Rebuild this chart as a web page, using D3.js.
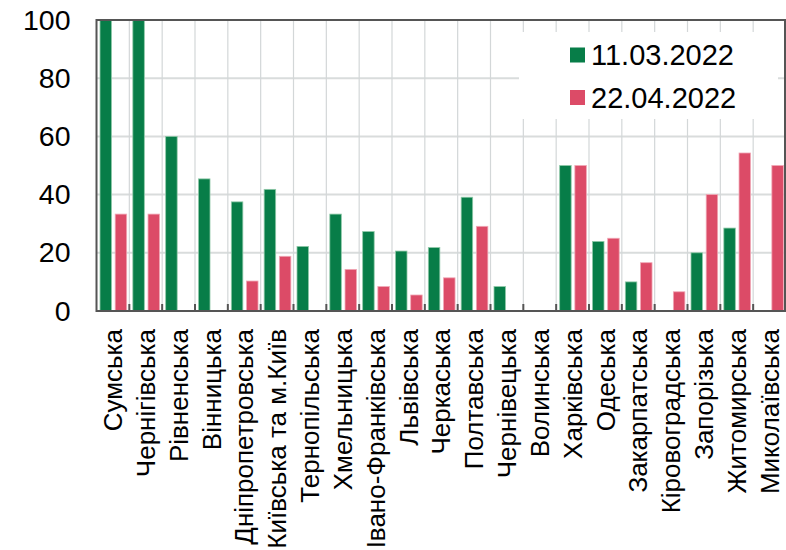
<!DOCTYPE html>
<html>
<head>
<meta charset="utf-8">
<script src="https://cdn.jsdelivr.net/npm/d3@7"></script>
<style>
html,body{margin:0;padding:0;background:#fff;}
svg{display:block;font-family:"Liberation Sans",Arial,sans-serif;}
</style>
</head>
<body>
<svg id="chart" width="786" height="550"></svg>
<script>
const categories = ["Сумська","Чернігівська","Рівненська","Вінницька","Дніпропетровська","Київська та м.Київ","Тернопільська","Хмельницька","Івано-Франківська","Львівська","Черкаська","Полтавська","Чернівецька","Волинська","Харківська","Одеська","Закарпатська","Кіровоградська","Запорізька","Житомирська","Миколаївська"];
const seriesNames = ["11.03.2022","22.04.2022"];
const valuesMarch = [100,100,60,45.4,37.5,41.8,22.2,33.3,27.3,20.6,21.8,39.1,8.4,0,50,23.9,10,0,20,28.5,0];
const valuesApril = [33.3,33.3,0,0,10.3,18.8,0,14.3,8.4,5.5,11.4,29.1,0,0,50,25,16.6,6.6,40,54.3,50];
const yTicks = [0,20,40,60,80,100];
const colors = ["#077d48","#dc4b67"];

const svg = d3.select("#chart");
const L = 96.5, R = 786, T = 20, B = 311;

const x = d3.scaleBand().domain(categories).range([L, R]).padding(0);
const x1 = d3.scaleBand().domain(seriesNames).range([3.5, 30.2]).paddingInner(0.243).paddingOuter(0);
const y = d3.scaleLinear().domain([0, 100]).range([B, T]);

const grid = svg.append("g");
grid.selectAll("line.h").data(yTicks.filter(d => d > 0 && d < 100)).enter().append("line")
  .attr("x1", L).attr("x2", R).attr("y1", d => y(d)).attr("y2", d => y(d))
  .attr("stroke", "#d9dcdc").attr("stroke-width", 2);
const bounds = categories.slice(1).map(c => x(c));
grid.selectAll("line.v").data(bounds).enter().append("line")
  .attr("x1", d => d).attr("x2", d => d).attr("y1", T).attr("y2", B)
  .attr("stroke", "#d3d7d8").attr("stroke-width", 1.2);

svg.append("rect").attr("x", 519).attr("y", 32).attr("width", 259).attr("height", 87).attr("fill", "#fff");

const series = [valuesMarch, valuesApril];
series.forEach((vals, si) => {
  svg.append("g").selectAll("rect").data(vals).enter().append("rect")
    .attr("x", (d, i) => x(categories[i]) + x1(seriesNames[si]))
    .attr("width", x1.bandwidth())
    .attr("y", d => y(d))
    .attr("height", d => B - y(d))
    .attr("fill", colors[si])
    .attr("stroke", si === 0 ? "#8fc9a8" : "#f0a8b6")
    .attr("stroke-width", 0.8);
});

svg.append("g").selectAll("line").data(bounds).enter().append("line")
  .attr("x1", d => d).attr("x2", d => d).attr("y1", B - 7).attr("y2", B)
  .attr("stroke", "#555").attr("stroke-width", 2);

svg.append("rect").attr("x", L).attr("y", T).attr("width", R - L - 1).attr("height", B - T)
  .attr("fill", "none").attr("stroke", "#555").attr("stroke-width", 2);

const yAxis = d3.axisLeft(y).tickValues(yTicks).tickSize(0).tickPadding(26).tickFormat(d3.format("d"));
const ya = svg.append("g").attr("transform", `translate(${L},0)`).call(yAxis);
ya.select(".domain").remove();
ya.selectAll("text").attr("font-size", 28.5).attr("fill", "#000").attr("font-family", "Liberation Sans, Arial, sans-serif");

const xAxis = d3.axisBottom(x).tickSize(0).tickPadding(0);
const xa = svg.append("g").attr("transform", `translate(0,${B})`).call(xAxis);
xa.select(".domain").remove();
xa.selectAll("text")
  .attr("font-size", 26).attr("fill", "#000").attr("font-family", "Liberation Sans, Arial, sans-serif")
  .attr("text-anchor", "end")
  .attr("transform", "rotate(-90)")
  .attr("x", -18).attr("y", 0).attr("dy", "0.35em");

const lg = svg.append("g");
seriesNames.forEach((s, i) => {
  const cy = 55 + i * 42.5;
  lg.append("rect").attr("x", 570).attr("y", cy - 7.5).attr("width", 15).attr("height", 15).attr("fill", colors[i]);
  lg.append("text").attr("x", 591).attr("y", cy).attr("dy", "0.35em")
    .attr("font-size", 29).attr("fill", "#000").text(s);
});
</script>
</body>
</html>
